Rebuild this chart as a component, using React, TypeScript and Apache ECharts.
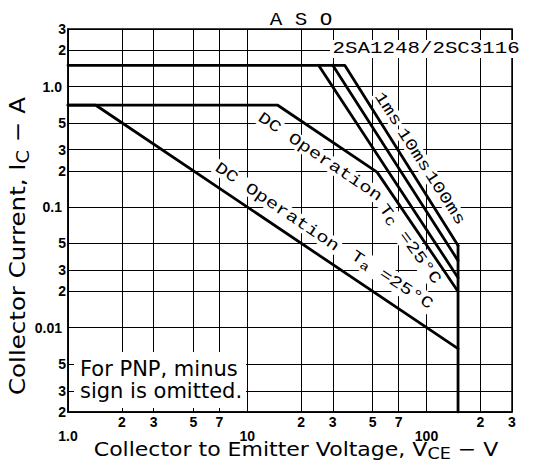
import React, { useEffect, useRef } from 'react';
import * as echarts from 'echarts';

// ---- axes ----
const X_MIN = 1;
const X_MAX = 300;
const Y_MIN = 0.002;
const Y_MAX = 3;
const xGridValues = [1, 2, 3, 5, 7, 10, 20, 30, 50, 70, 100, 200, 300];
const xMinorLabels = [2, 3, 5, 7, 20, 30, 50, 70, 200, 300];
const xMajorLabels = [1, 10, 100];
const yGridValues = [0.002, 0.003, 0.005, 0.01, 0.02, 0.03, 0.05, 0.1, 0.2, 0.3, 0.5, 1, 2, 3];

// ---- safe operating area boundaries (VCE [V], IC [A]) ----
const pulse1ms = [[1, 1.5], [35, 1.5], [150, 0.048]];
const pulse10ms = [[30, 1.5], [150, 0.036]];
const pulse100ms = [[25, 1.5], [150, 0.026]];
const dcTc25 = [[1, 0.7], [14.8, 0.7], [53, 0.195], [150, 0.02]];
const dcTa25 = [[1, 0.7], [1.43, 0.7], [150, 0.0067]];
const vceoLimit = [[150, 0.048], [150, 0.002]];

const mono = '"Liberation Mono", "DejaVu Sans Mono", monospace';
const sans = '"DejaVu Sans", "Liberation Sans", sans-serif';
const tickFont = '"Liberation Sans Narrow", "Liberation Sans", Arial, sans-serif';

const clean = (v: number) => Number(v.toPrecision(6));
const isDecade = (v: number) => Math.abs(Math.log10(v) - Math.round(Math.log10(v))) < 1e-6;
const leadDigit = (v: number) => {
  const e = Math.floor(Math.log10(v) + 1e-9);
  return String(Math.round(v / Math.pow(10, e)));
};
const xMinorFmt = (v: number) => leadDigit(clean(v));
const xMajorFmt = (v: number) => {
  const c = clean(v);
  return c === 1 ? '1.0' : String(Math.round(c));
};
const yFmt = (v: number) => {
  const c = clean(v);
  if (isDecade(c)) return '{maj|' + (c === 1 ? '1.0' : String(c)) + '}';
  return '{mnr|' + leadDigit(c) + '}';
};

const lineSeries = (name: string, data: number[][]) => ({
  name,
  type: 'line',
  data,
  showSymbol: false,
  symbol: 'none',
  silent: true,
  clip: true,
  z: 3,
  lineStyle: { color: '#000', width: 2.8, cap: 'round', join: 'round' },
});

const ANN_SIZE = 16;
const ANN_SX = 1.27;
const ann = (text: string, x: number, y: number, deg: number, rich?: any) => ({
  type: 'text',
  x,
  y,
  rotation: (-deg * Math.PI) / 180,
  scaleX: ANN_SX,
  z: 20,
  style: {
    text,
    font: `${ANN_SIZE}px ${mono}`,
    fill: '#000',
    align: 'center',
    verticalAlign: 'middle',
    backgroundColor: '#fff',
    padding: [0, 1],
    rich,
  },
});

const subRich = {
  n: { fontSize: ANN_SIZE, fontFamily: mono, lineHeight: 18 },
  s: { fontSize: 12, fontFamily: mono, padding: [8, 0, 0, 0] },
};

export default function App() {
  const ref = useRef<HTMLDivElement>(null);
  useEffect(() => {
    const chart = echarts.init(ref.current!, undefined, { renderer: 'svg', width: 544, height: 468 });
    const baseAxisLabel = {
      color: '#000',
      fontFamily: tickFont,
      fontWeight: 'bold',
      fontSize: 14,
    };
    chart.setOption({
      animation: false,
      backgroundColor: '#fff',
      grid: { left: 68, top: 29, right: 32, bottom: 56, show: true, borderColor: '#000', borderWidth: 1.5, backgroundColor: 'transparent' },
      xAxis: [
        {
          type: 'log',
          logBase: 10,
          min: X_MIN,
          max: X_MAX,
          axisLine: { show: true, onZero: false, lineStyle: { color: '#000', width: 1.5 } },
          axisTick: { show: false, customValues: xGridValues },
          splitLine: { show: true, lineStyle: { color: '#000', width: 1 } },
          axisLabel: { ...baseAxisLabel, customValues: xMinorLabels, margin: 3, formatter: xMinorFmt },
        },
        {
          type: 'log',
          logBase: 10,
          min: X_MIN,
          max: X_MAX,
          position: 'bottom',
          axisLine: { show: false },
          axisTick: { show: false, customValues: xMajorLabels },
          splitLine: { show: false },
          axisLabel: { ...baseAxisLabel, customValues: xMajorLabels, margin: 17, formatter: xMajorFmt },
        },
      ],
      yAxis: {
        type: 'log',
        logBase: 10,
        min: Y_MIN,
        max: Y_MAX,
        axisLine: { show: true, onZero: false, lineStyle: { color: '#000', width: 1.5 } },
        axisTick: { show: false, customValues: yGridValues },
        splitLine: { show: true, lineStyle: { color: '#000', width: 1 } },
        axisLabel: {
          ...baseAxisLabel,
          customValues: yGridValues,
          margin: 2,
          formatter: yFmt,
          rich: {
            maj: { ...baseAxisLabel, padding: [0, 4, 0, 0] },
            mnr: { ...baseAxisLabel },
          },
        },
      },
      series: [
        lineSeries('1ms', pulse1ms),
        lineSeries('10ms', pulse10ms),
        lineSeries('100ms', pulse100ms),
        lineSeries('DC Tc=25°C', dcTc25),
        lineSeries('DC Ta=25°C', dcTa25),
        lineSeries('VCEO', vceoLimit),
      ],
      graphic: [
        // title & part number
        { type: 'text', x: 301, y: 20, z: 20, scaleX: 1.1, style: { text: 'A S O', font: `19px ${mono}`, fill: '#000', align: 'center', verticalAlign: 'middle' } },
        { type: 'text', x: 330, y: 49, scaleX: 1.3, z: 20, style: { text: '2SA1248/2SC3116', font: `16px ${mono}`, fill: '#000', align: 'left', verticalAlign: 'middle', backgroundColor: '#fff', padding: [1, 2] } },
        // curve labels
        ann('DC Operation', 320, 157, 34),
        ann('{n|T}{s|C}{n| =25°C}', 410, 244, 54, subRich),
        ann('DC Operation', 277, 207, 34),
        ann('{n|T}{s|a}{n| =25°C}', 392, 280, 33, subRich),
        ann('1ms', 388, 109, 57),
        ann('10ms', 414, 150, 57),
        ann('100ms', 445, 198, 57),
        // note box
        { type: 'rect', z: 15, shape: { x: 74, y: 352, width: 172, height: 56 }, style: { fill: '#fff' } },
        { type: 'text', x: 80, y: 380, z: 20, style: { text: 'For PNP, minus\nsign is omitted.', font: `21px ${sans}`, lineHeight: 22, fill: '#000', align: 'left', verticalAlign: 'middle' } },
        // axis names
        {
          type: 'text', x: 296, y: 449, z: 20, scaleX: 1.1,
          style: {
            text: '{n|Collector to Emitter Voltage, V}{s|CE}{n| − V}',
            fill: '#000', align: 'center', verticalAlign: 'middle',
            rich: { n: { fontSize: 20, fontFamily: sans, lineHeight: 24 }, s: { fontSize: 16, fontFamily: sans, padding: [9, 0, 0, 0] } },
          },
        },
        {
          type: 'text', x: 18, y: 246, z: 20, rotation: Math.PI / 2, scaleX: 1.14,
          style: {
            text: '{n|Collector Current, I}{s|C}{n| − A}',
            fill: '#000', align: 'center', verticalAlign: 'middle',
            rich: { n: { fontSize: 21.5, fontFamily: sans, lineHeight: 26 }, s: { fontSize: 17, fontFamily: sans, padding: [10, 0, 0, 0] } },
          },
        },
      ],
    });
    return () => chart.dispose();
  }, []);
  return <div ref={ref} style={{ position: 'fixed', left: 0, top: 0, width: 544, height: 468, background: '#fff' }} />;
}
